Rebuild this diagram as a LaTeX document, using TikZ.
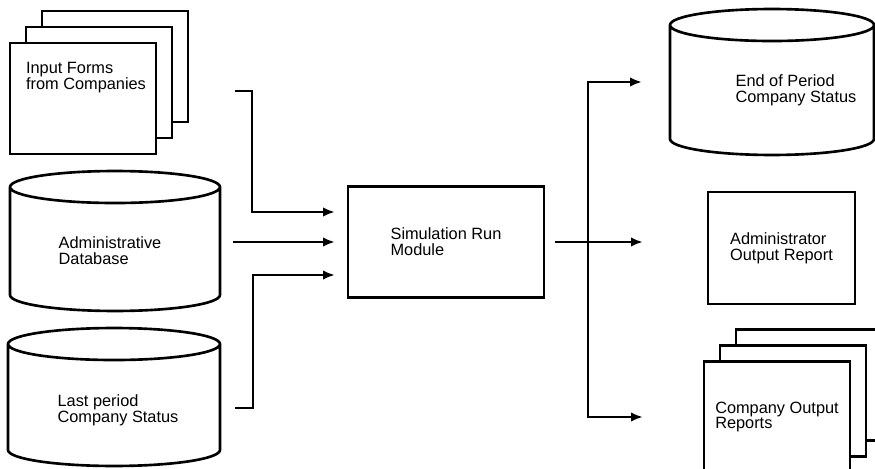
\documentclass[tikz,border=0pt]{standalone}
\usepackage{fontspec}
\setmainfont{Liberation Sans}
\usetikzlibrary{arrows.meta,positioning,calc}
\tikzset{
  >={Latex[length=2.4mm,width=1.9mm]},
  line/.style={line width=1.5pt},
  flow/.style={->,line width=1.4pt},
  txt/.style={font=\fontsize{9.3}{9}\selectfont,align=left,inner sep=0pt},
  page/.style={draw,line,fill=white,inner sep=0pt,outer sep=0pt,
    minimum width=2.92cm,minimum height=2.22cm,txt},
  drum/.style={inner sep=0pt,outer sep=0pt,minimum width=#1},
  drum/.default=4.2cm,
}

\begin{document}
\begin{tikzpicture}[x=0.02cm,y=-0.02cm]
    \clip (0,0) rectangle (875,469);
    % inputs
    \node[page] (formsC) at (115,66.5) {};
    \node[page] (formsB) at ([shift={(-16,16)}]formsC.center) {};
    \node[page] (forms) at ([shift={(-16,16)}]formsB.center) {};
    \node[txt] (forms-t) at ([shift={(3,-21)}]forms.center) {Input Forms\\from Companies};
    \node[drum=4.2cm,minimum height=2.8cm] (admin) at (115,241) {};
    \node[txt] (admin-t) at ([shift={(-5,10)}]admin.center) {Administrative\\Database};
    \node[drum=4.24cm,minimum height=2.76cm] (last) at (114,397) {};
    \node[txt] (last-t) at ([shift={(4,13)}]last.center) {Last period\\Company Status};
    % module
    \node[page,minimum width=3.92cm,minimum height=2.22cm] (sim) at (446,242) {Simulation Run\\Module};
    % outputs
    \node[drum=4.08cm,minimum height=2.92cm] (endp) at (772,82) {};
    \node[txt] (endp-t) at ([shift={(24,8)}]endp.center) {End of Period\\Company Status};
    \node[page,minimum width=2.94cm,minimum height=2.24cm] (adminrep) at (781.5,248) {Administrator\\Output Report};
    \node[page] (repC) at (809,385) {};
    \node[page] (repB) at ([shift={(-16,16)}]repC.center) {};
    \node[page] (rep) at ([shift={(-16,16)}]repB.center) {Company Output\\Reports};
    % cylinder outlines
    \foreach \s in {admin,last,endp}
      \draw[line] let \p1=(\s.north west), \p2=(\s.south east), \n1={(\x2-\x1)/2} in
        ($(\s.north)+(0,16)$) ellipse [x radius=\n1, y radius=0.32cm]
        (\x1,{\y1-0.32cm}) -- (\x1,{\y2+0.32cm})
        arc [start angle=180, end angle=360, x radius=\n1, y radius=0.32cm]
        -- (\x2,{\y1-0.32cm});
    % connectors
    \coordinate (fin) at (235,91);
    \coordinate (lin) at (235,408);
    \coordinate (simin) at ([xshift=-0.26cm]sim.west);
    \draw[flow] (fin) -- ++(17,0) |- ([shift={(0,-30)}]simin);
    \draw[flow] ([xshift=0.26cm]admin.east |- sim.west) -- (simin);
    \draw[flow] (lin) -- ++(18,0) |- ([shift={(0,33)}]simin);
    \coordinate (split) at ([xshift=0.88cm]sim.east);
    \coordinate (aout) at ([xshift=-1.3cm]adminrep.west);
    \draw[flow] ([xshift=0.22cm]sim.east) -- (sim.east -| aout);
    \draw[flow] (split) |- ([xshift=-0.56cm]endp.west);
    \draw[flow] (split) |- ([xshift=-1.22cm]rep.west);
  \end{tikzpicture}
\end{document}
